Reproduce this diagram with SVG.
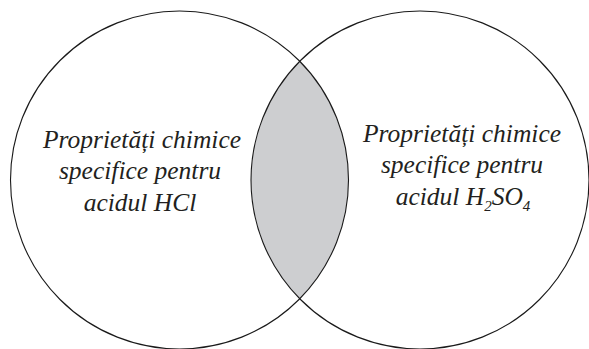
<svg xmlns="http://www.w3.org/2000/svg" width="589" height="349" viewBox="0 0 589 349">
  <style>
    .set { fill: none; stroke: #1a1a1a; stroke-width: 1.1; }
    .overlap { fill: #cdced0; stroke: none; }
    text { font-family: 'Liberation Serif', 'Times New Roman', serif; font-style: italic; font-size: 25.5px; fill: #231f20; text-anchor: middle; }
    .sub { font-size: 15px; }
  </style>
  <rect width="589" height="349" fill="#ffffff"/>

  <!-- shared region of the two sets -->
  <path id="intersection" class="overlap" d="M 299.75 61.3 A 169 169 0 0 1 299.75 298.7 A 169 169 0 0 1 299.75 61.3 Z"/>

  <g id="set-hcl">
    <circle class="set" cx="179.5" cy="180" r="169"/>
    <text x="142" y="148">Proprietăți chimice</text>
    <text x="140" y="179">specifice pentru</text>
    <text x="140" y="211">acidul HCl</text>
  </g>

  <g id="set-h2so4">
    <circle class="set" cx="420" cy="180" r="169"/>
    <text x="462" y="142">Proprietăți chimice</text>
    <text x="462" y="173">specifice pentru</text>
    <text x="463" y="205">acidul H<tspan class="sub" dy="6">2</tspan><tspan dy="-6">SO</tspan><tspan class="sub" dy="6">4</tspan></text>
  </g>
</svg>
